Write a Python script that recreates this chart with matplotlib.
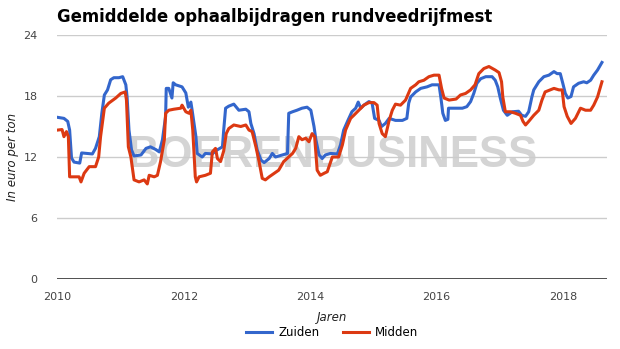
import numpy as np
import matplotlib.pyplot as plt

# decimal year / euro per ton
zuiden_t = [2010.00, 2010.10, 2010.16, 2010.19, 2010.22, 2010.26, 2010.35, 2010.38, 2010.55, 2010.60,
            2010.66, 2010.70, 2010.74, 2010.79, 2010.84, 2010.89, 2010.97, 2011.03, 2011.08, 2011.10,
            2011.13, 2011.17, 2011.21, 2011.32, 2011.40, 2011.47, 2011.55, 2011.61, 2011.66, 2011.71,
            2011.72, 2011.76, 2011.81, 2011.83, 2011.87, 2011.97, 2012.03, 2012.07, 2012.11, 2012.13,
            2012.19, 2012.21, 2012.29, 2012.34, 2012.45, 2012.50, 2012.58, 2012.61, 2012.63, 2012.66,
            2012.71, 2012.79, 2012.87, 2012.98, 2013.03, 2013.06, 2013.11, 2013.16, 2013.22, 2013.27,
            2013.35, 2013.40, 2013.45, 2013.56, 2013.64, 2013.66, 2013.72, 2013.79, 2013.87, 2013.95,
            2014.01, 2014.06, 2014.09, 2014.14, 2014.19, 2014.24, 2014.32, 2014.43, 2014.48, 2014.53,
            2014.59, 2014.66, 2014.72, 2014.76, 2014.80, 2014.85, 2014.93, 2014.98, 2015.02, 2015.09,
            2015.13, 2015.19, 2015.25, 2015.35, 2015.46, 2015.53, 2015.56, 2015.59, 2015.67, 2015.75,
            2015.85, 2015.93, 2016.04, 2016.07, 2016.10, 2016.14, 2016.18, 2016.19, 2016.30, 2016.41,
            2016.48, 2016.54, 2016.59, 2016.64, 2016.70, 2016.78, 2016.88, 2016.93, 2016.97, 2017.01,
            2017.06, 2017.12, 2017.20, 2017.30, 2017.35, 2017.41, 2017.46, 2017.51, 2017.54, 2017.62,
            2017.70, 2017.78, 2017.86, 2017.91, 2017.96, 2018.00, 2018.04, 2018.08, 2018.13, 2018.17,
            2018.25, 2018.33, 2018.38, 2018.44, 2018.49, 2018.55, 2018.62]
zuiden_v = [15.9, 15.8, 15.5, 14.65, 11.9, 11.5, 11.4, 12.4, 12.3, 12.85,
            14.0, 16.3, 18.1, 18.6, 19.6, 19.8, 19.8, 19.9, 19.1, 17.9,
            14.65, 12.7, 12.1, 12.2, 12.85, 13.0, 12.75, 12.5, 13.7, 16.0,
            18.75, 18.75, 17.8, 19.3, 19.1, 18.9, 18.3, 16.9, 17.4, 16.6,
            14.0, 12.35, 12.0, 12.35, 12.3, 12.6, 12.9, 13.0, 14.65, 16.8,
            17.0, 17.2, 16.6, 16.7, 16.45, 15.3, 14.3, 12.7, 11.7, 11.45,
            11.85, 12.35, 12.0, 12.2, 12.35, 16.3, 16.45, 16.6, 16.8, 16.9,
            16.6, 15.0, 13.7, 12.2, 11.85, 12.2, 12.35, 12.3, 13.2, 14.65,
            15.5, 16.45, 16.8, 17.4, 16.8, 17.1, 17.45, 17.3, 15.8, 15.6,
            15.0, 15.3, 15.8, 15.6, 15.6, 15.8, 17.3, 17.9, 18.4, 18.75,
            18.9, 19.1, 19.1, 17.8, 16.3, 15.6, 15.7, 16.8, 16.8, 16.8,
            16.95, 17.45, 18.25, 19.25, 19.7, 19.9, 19.9, 19.55, 18.9, 17.8,
            16.6, 16.1, 16.45, 16.5, 16.1, 16.0, 16.45, 17.9, 18.6, 19.4,
            19.9, 20.05, 20.4, 20.2, 20.2, 19.25, 18.25, 17.8, 17.95, 18.9,
            19.25, 19.4, 19.3, 19.55, 20.05, 20.55, 21.3]

midden_t = [2010.00, 2010.07, 2010.10, 2010.14, 2010.17, 2010.19, 2010.26, 2010.34, 2010.37, 2010.42,
            2010.50, 2010.60, 2010.65, 2010.68, 2010.74, 2010.81, 2010.92, 2011.00, 2011.07, 2011.09,
            2011.12, 2011.16, 2011.21, 2011.29, 2011.37, 2011.42, 2011.45, 2011.53, 2011.58, 2011.63,
            2011.69, 2011.71, 2011.76, 2011.84, 2011.95, 2011.97, 2012.03, 2012.08, 2012.11, 2012.14,
            2012.18, 2012.20, 2012.24, 2012.34, 2012.42, 2012.45, 2012.50, 2012.53, 2012.58, 2012.63,
            2012.67, 2012.71, 2012.79, 2012.90, 2012.98, 2013.03, 2013.08, 2013.14, 2013.19, 2013.24,
            2013.29, 2013.35, 2013.43, 2013.50, 2013.58, 2013.66, 2013.72, 2013.77, 2013.82, 2013.87,
            2013.93, 2013.98, 2014.03, 2014.07, 2014.11, 2014.16, 2014.22, 2014.27, 2014.35, 2014.45,
            2014.51, 2014.56, 2014.64, 2014.69, 2014.77, 2014.85, 2014.93, 2015.01, 2015.06, 2015.09,
            2015.14, 2015.19, 2015.25, 2015.30, 2015.35, 2015.43, 2015.51, 2015.59, 2015.67, 2015.72,
            2015.80, 2015.88, 2015.96, 2016.04, 2016.08, 2016.12, 2016.20, 2016.31, 2016.38, 2016.46,
            2016.54, 2016.61, 2016.67, 2016.75, 2016.83, 2016.93, 2016.99, 2017.03, 2017.05, 2017.09,
            2017.17, 2017.25, 2017.33, 2017.37, 2017.41, 2017.46, 2017.54, 2017.62, 2017.67, 2017.72,
            2017.80, 2017.86, 2017.94, 2017.99, 2018.02, 2018.07, 2018.13, 2018.20, 2018.28, 2018.36,
            2018.44, 2018.49, 2018.55, 2018.62]
midden_v = [14.65, 14.7, 14.0, 14.5, 14.0, 10.05, 10.05, 10.05, 9.55, 10.4,
            11.05, 11.05, 12.0, 14.0, 16.8, 17.3, 17.8, 18.25, 18.4, 17.6,
            13.0, 12.0, 9.75, 9.55, 9.75, 9.35, 10.2, 10.05, 10.2, 11.55,
            13.7, 16.3, 16.6, 16.7, 16.8, 17.1, 16.45, 16.3, 16.6, 14.65,
            10.05, 9.55, 10.05, 10.2, 10.4, 12.5, 12.85, 11.85, 11.55, 12.6,
            14.3, 14.8, 15.15, 15.0, 15.15, 14.65, 14.5, 13.0, 11.55, 9.9,
            9.75, 10.05, 10.4, 10.7, 11.55, 12.0, 12.35, 12.85, 14.0, 13.7,
            13.85, 13.5, 14.3, 14.0, 10.7, 10.2, 10.4, 10.55, 12.0, 12.0,
            13.2, 14.65, 15.8, 16.1, 16.6, 17.1, 17.35, 17.35, 17.1, 15.3,
            14.3, 14.0, 15.6, 16.6, 17.2, 17.1, 17.6, 18.75, 19.1, 19.4,
            19.55, 19.9, 20.05, 20.05, 18.75, 17.8, 17.6, 17.7, 18.1, 18.25,
            18.6, 19.1, 20.2, 20.7, 20.9, 20.55, 20.3, 19.4, 17.9, 16.45,
            16.45, 16.3, 16.1, 15.5, 15.15, 15.5, 16.1, 16.6, 17.6, 18.4,
            18.6, 18.75, 18.6, 18.6, 16.95, 16.0, 15.3, 15.8, 16.8, 16.6,
            16.6, 17.1, 17.9, 19.4]

yticks = [0, 6, 12, 18, 24]
xticks = [2010, 2012, 2014, 2016, 2018]

fig = plt.figure(figsize=(6.2, 3.49), dpi=100)
ax = fig.add_axes([57/620, 70/349, 550/620, 244/349])

ax.plot(zuiden_t, zuiden_v, color='#3366cc', lw=2.2, label='Zuiden', zorder=3, solid_joinstyle='round')
ax.plot(midden_t, midden_v, color='#dc3912', lw=2.2, label='Midden', zorder=3, solid_joinstyle='round')

# watermark
ax.text(0.5, 0.505, 'BOERENBUSINESS', transform=ax.transAxes, ha='center', va='center',
        fontsize=31.5, fontweight='bold', family='Liberation Sans', color='#d4d4d4', zorder=1)

ax.set_xlim(2009.99, 2018.70)
ax.set_ylim(0, 24)
ax.set_yticks(yticks)
ax.set_xticks(xticks)
ax.grid(axis='y', color='#cccccc', lw=1)
ax.axhline(0, color='#333333', lw=1.2, zorder=4)
for s in ax.spines.values():
    s.set_visible(False)
ax.tick_params(length=0, labelsize=8, colors='#444444', pad=9)
ax.tick_params(axis='y', pad=14)

ax.set_xlabel('Jaren', style='italic', fontsize=8.5, color='#222222', labelpad=7)
ax.set_ylabel('In euro per ton', style='italic', fontsize=8.5, color='#222222', labelpad=3)

fig.text(57/620, 1 - 17/349, 'Gemiddelde ophaalbijdragen rundveedrijfmest', fontsize=11.9,
         fontweight='bold', va='center', ha='left', color='black')

fig.legend(loc='center', bbox_to_anchor=(332/620, 1 - 333/349), ncol=2, frameon=False,
           fontsize=8.5, handlelength=2.2, columnspacing=2.0, handletextpad=0.5)

fig.savefig('out.png', dpi=100)
